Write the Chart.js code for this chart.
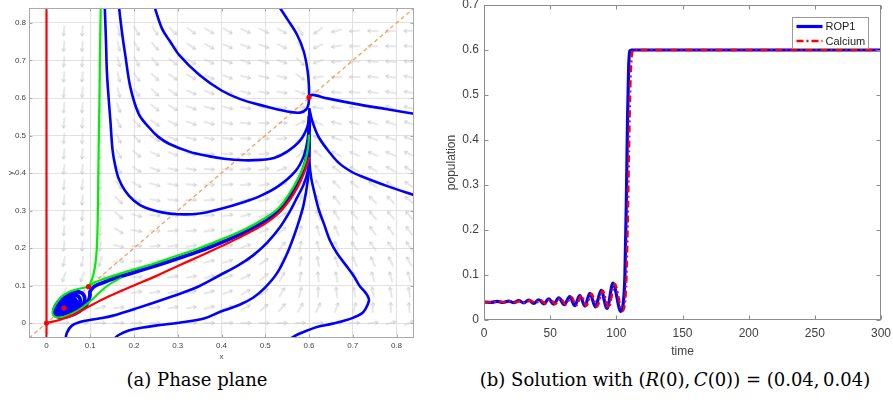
<!DOCTYPE html>
<html>
<head>
<meta charset="utf-8">
<script src="https://cdn.jsdelivr.net/npm/chart.js@4.4.1/dist/chart.umd.min.js"></script>
<style>
  html, body { margin: 0; padding: 0; background: #fff; width: 893px; height: 402px; overflow: hidden; }
  #phase { position: absolute; left: 0; top: 0; }
  #series { position: absolute; left: 440px; top: 0; }
  .cap { position: absolute; top: 369px; font-family: "DejaVu Serif", serif; font-size: 18px; color: #000;
         white-space: nowrap; transform: translateX(-50%); }
  .cap i { font-style: italic; }
</style>
</head>
<body>
<canvas id="phase" width="430" height="362"></canvas>
<canvas id="series" width="453" height="363"></canvas>
<div class="cap" style="left:197px">(a) Phase plane</div>
<div class="cap" style="left:675px">(b) Solution with (<i>R</i>(0),&#8201;<i>C</i>(0)) = (0.04,&#8201;0.04)</div>
<script>
// ---------- phase plane: axes ----------
const phaseRange = [-0.04, 0.84];
const phaseTicks = [0, 0.1, 0.2, 0.3, 0.4, 0.5, 0.6, 0.7, 0.8];

// ---------- phase plane: direction field (arrow centres and headings in degrees) ----------
const quiverX = [0.040, 0.082, 0.123, 0.165, 0.206, 0.248, 0.289, 0.331, 0.372, 0.414,
                 0.455, 0.497, 0.538, 0.580, 0.621, 0.663, 0.704, 0.746, 0.787, 0.829];
const quiverY = [0.779, 0.738, 0.697, 0.656, 0.615, 0.574, 0.533, 0.492, 0.451, 0.410,
                 0.369, 0.328, 0.287, 0.246, 0.205, 0.164, 0.123, 0.082, 0.041, 0.000];
const quiverAngle = [
  [-95,-95,-95,-75,-60,-55,-45,-35,-30,-30,-25,-25,-30,-60,-145,-165,-175,180,180,180],
  [-95,-95,-95,-75,-60,-50,-40,-35,-30,-25,-20,-20,-25,-55,-155,-170,180,180,180,175],
  [-95,-95,-95,-75,-60,-50,-40,-30,-25,-20,-20,-20,-20,-45,-160,-175,180,175,175,175],
  [-95,-95,-95,-75,-55,-45,-35,-30,-25,-20,-15,-15,-15,-35,-170,180,180,175,170,170],
  [-95,-95,-95,-75,-55,-45,-35,-25,-20,-15,-15,-10,-10,-20,180,175,175,170,170,170],
  [-95,-95,-95,-70,-50,-40,-30,-20,-15,-15,-10,-5,-5,5,170,170,170,165,165,165],
  [-95,-95,-95,-65,-45,-35,-25,-20,-15,-10,-5,0,0,25,160,165,165,165,160,160],
  [-95,-95,-95,-65,-45,-30,-20,-15,-10,-5,0,0,5,35,150,160,160,160,160,160],
  [-95,-95,-95,-60,-40,-25,-20,-10,-5,0,0,5,15,45,140,150,155,155,155,155],
  [-95,-95,-95,-60,-35,-20,-15,-10,-5,0,5,10,20,55,130,145,150,150,150,150],
  [-95,-95,-95,-55,-30,-15,-10,-5,0,5,5,10,25,60,120,135,140,145,145,145],
  [-95,-95,-95,-45,-20,-10,-5,0,5,5,10,15,30,65,115,130,135,135,135,140],
  [-95,-95,-95,-40,-15,-5,0,5,5,10,15,20,30,70,110,125,130,130,130,130],
  [-95,-95,-95,-30,-10,0,5,5,10,10,15,25,40,75,105,115,120,125,125,125],
  [-95,-95,-100,-15,0,5,5,10,10,15,20,30,50,80,105,115,125,125,125,125],
  [-100,-100,-105,0,5,5,10,10,15,15,25,35,55,80,100,110,115,115,115,120],
  [-110,-110,0,5,5,5,10,10,15,20,25,40,60,80,95,100,105,105,105,105],
  [-120,180,30,10,10,10,10,15,15,20,30,40,60,75,90,95,100,100,100,100],
  [0,30,15,5,5,5,10,10,15,20,30,40,50,60,65,70,75,85,90,95],
  [0,0,0,0,0,0,0,0,0,0,0,0,0,0,0,0,0,5,15,25]
];

// ---------- phase plane: trajectories [R, C] ----------
const diagonal = [[-0.04, -0.04], [0.84, 0.84]];
const axisNullcline = [[0, -0.05], [0, 0.85]];
const equilibria = [[0, 0], [0.04, 0.04], [0.096, 0.097], [0.6, 0.602]];

const topA = [[.133,.85],[.136,.75],[.138,.671],[.142,.6],[.146,.54],[.151,.461],[.157,.42],[.165,.385],[.18,.352],
  [.2,.326],[.225,.308],[.264,.295],[.3,.29],[.35,.292],[.397,.304],[.45,.322],[.489,.339],[.53,.365],[.569,.405],
  [.588,.445],[.597,.49],[.6,.53],[.601,.555]];
const topB = [[.165,.85],[.172,.78],[.18,.715],[.192,.627],[.211,.557],[.234,.522],[.255,.497],[.28,.478],[.326,.457],
  [.37,.445],[.406,.438],[.45,.434],[.49,.435],[.52,.44],[.55,.457],[.58,.487],[.596,.522],[.6,.55],[.601,.57]];
const topC = [[.245,.85],[.264,.785],[.283,.75],[.303,.715],[.349,.662],[.4,.62],[.443,.597],[.496,.579],[.55,.564],
  [.58,.561],[.594,.57],[.599,.585],[.6,.6]];
const topD = [[.528,.85],[.55,.811],[.573,.768],[.588,.724],[.597,.671],[.6,.627],[.6,.602]];
const rightE = [[.845,.557],[.779,.57],[.703,.585],[.642,.599],[.615,.607],[.605,.608],[.601,.603]];
const rightF = [[.845,.339],[.779,.365],[.718,.392],[.699,.402],[.67,.425],[.649,.452],[.622,.496],[.607,.54],[.601,.57]];
const bottomG = [[.043,-.045],[.047,-.025],[.058,-.007],[.075,.002],[.089,.006],[.12,.012],[.15,.019],[.211,.041],
  [.28,.068],[.341,.094],[.397,.128],[.44,.155],[.473,.181],[.505,.215],[.534,.256],[.555,.295],[.569,.326],
  [.588,.37],[.597,.405],[.6,.45],[.601,.5]];
const bottomH = [[.152,-.045],[.165,-.032],[.188,-.02],[.22,-.012],[.249,-.007],[.31,.002],[.36,.012],[.397,.03],
  [.44,.048],[.473,.068],[.5,.095],[.527,.133],[.548,.18],[.565,.23],[.578,.275],[.588,.317],[.597,.379],[.6,.43],[.601,.48]];
const bottomI = [[.553,-.045],[.575,-.03],[.596,-.02],[.62,-.01],[.649,-.003],[.68,.006],[.703,.015],[.72,.025],
  [.729,.037],[.737,.059],[.735,.07],[.729,.081],[.715,.1],[.703,.124],[.685,.153],[.664,.186],[.648,.22],
  [.634,.265],[.623,.3],[.615,.335],[.605,.387],[.601,.43],[.6,.48]];
const spiralBand = [[.044,.041],[.05,.046],[.047,.05],[.041,.046],[.039,.04],[.044,.037],[.052,.042],[.055,.05],
  [.05,.055],[.042,.051],[.036,.043],[.036,.035],[.044,.032],[.056,.038],[.062,.049],[.06,.058],[.05,.061],
  [.039,.055],[.031,.044],[.031,.032],[.041,.027],[.057,.032],[.067,.045],[.068,.059],[.06,.067],[.046,.065],
  [.034,.055],[.026,.041],[.026,.028],[.037,.022],[.056,.027],[.072,.041],[.077,.058],[.073,.071],[.059,.075],
  [.042,.068],[.029,.055],[.021,.039],[.021,.025],[.032,.018],[.052,.021],[.072,.034],[.085,.052],[.087,.069],
  [.079,.081],[.061,.083],[.042,.073],[.027,.057],[.018,.039],[.018,.024],[.028,.016],[.05,.018],[.075,.031],
  [.092,.05],[.099,.07],[.1,.085],[.11,.098],[.13,.108],[.15,.117],[.2,.135],[.25,.153],[.3,.172],[.35,.192],
  [.4,.215],[.45,.24],[.5,.272],[.53,.299],[.555,.337],[.575,.378],[.59,.42],[.598,.465],[.6,.51],[.601,.55]];
const greenStable = [[.124,.85],[.122,.7],[.121,.6],[.119,.45],[.118,.35],[.117,.27],[.115,.2],[.112,.16],
  [.107,.128],[.1,.105],[.096,.097]];
const greenLoop = [[.096,.097],[.085,.094],[.07,.09],[.05,.082],[.033,.068],[.021,.05],[.014,.033],[.015,.021],
  [.024,.015],[.04,.017],[.06,.026],[.08,.04],[.1,.058],[.12,.08],[.14,.1],[.17,.12]];
const greenUnstable = [[.096,.097],[.11,.108],[.13,.117],[.15,.125],[.2,.143],[.25,.16],[.3,.18],[.35,.2],[.4,.223],
  [.45,.248],[.5,.28],[.53,.306],[.555,.345],[.575,.385],[.59,.425],[.598,.47],[.6,.5]];
const redSeparatrix = [[0,0],[.02,.005],[.04,.012],[.06,.021],[.08,.033],[.1,.046],[.13,.064],[.16,.08],[.2,.1],
  [.25,.125],[.3,.152],[.35,.178],[.4,.205],[.45,.233],[.5,.265],[.53,.292],[.557,.33],[.575,.365],[.587,.395],
  [.595,.42],[.6,.44]];

// ---------- time series ----------
const timeTicks = [0, 50, 100, 150, 200, 250, 300];
const popTicks = [0, 0.1, 0.2, 0.3, 0.4, 0.5, 0.6, 0.7];
const rop1Time = [0, 5.5, 9.9, 14.3, 18.7, 22.5, 26.3, 30, 33.8, 37.6, 41.4, 45.2, 48.9, 52.7, 56.5, 60.6, 64.8,
  68.6, 72.4, 76.2, 80, 84.2, 88.5, 93, 97.5, 103.4, 105.5, 106.5, 107.5, 108.5, 109.3, 110.2, 111.5, 300];
const rop1Value = [.04, .0392, .0415, .039, .042, .0385, .043, .038, .044, .037, .045, .036, .047, .035, .049, .034,
  .052, .032, .055, .031, .059, .029, .066, .026, .082, .019, .045, .1, .25, .45, .56, .598, .6, .6];
const calciumTime = [0, 6.5, 11, 15.5, 19.9, 23.7, 27.5, 31.2, 35, 38.8, 42.6, 46.4, 50.1, 53.9, 57.7, 61.8, 66,
  69.8, 73.6, 77.4, 81.2, 85.4, 89.7, 94.2, 98.8, 104.6, 106.6, 107.6, 108.6, 109.6, 110.6, 111.6, 113, 300];
const calciumValue = [.04, .0395, .0413, .0392, .0418, .0388, .0425, .0383, .0435, .0375, .0445, .0365, .0465,
  .0355, .0485, .0345, .0515, .0325, .0545, .0315, .0585, .0295, .065, .027, .08, .02, .04, .09, .21, .38, .52,
  .585, .6, .6];

// ---------- helpers ----------
Chart.defaults.font.family = '"Liberation Sans", Arial, sans-serif';
const fmt1 = v => String(Math.round(v * 10) / 10);
const toXY = pts => pts.map(([x, y]) => ({ x, y }));

function makeArrowGlyph() {
  const c = document.createElement('canvas');
  c.width = 14; c.height = 14;
  const g = c.getContext('2d');
  g.strokeStyle = '#c8c8c8';
  g.lineWidth = 0.9;
  g.beginPath();
  g.moveTo(1.5, 7); g.lineTo(12.2, 7);
  g.moveTo(9.2, 5.1); g.lineTo(12.2, 7); g.lineTo(9.2, 8.9);
  g.stroke();
  return c;
}

// box round the plot area with short inward ticks on all four sides
const framePlugin = {
  id: 'frame',
  afterDraw(chart, args, opts) {
    const { ctx, chartArea: a, scales } = chart;
    const L = Math.round(a.left) + 0.5, R = Math.round(a.right) - 0.5;
    const T = Math.round(a.top) + 0.5, B = Math.round(a.bottom) - 0.5;
    ctx.save();
    ctx.strokeStyle = opts.color;
    ctx.lineWidth = 1;
    ctx.strokeRect(L, T, R - L, B - T);
    ctx.beginPath();
    scales.x.ticks.forEach(t => {
      const p = Math.round(scales.x.getPixelForValue(t.value)) + 0.5;
      ctx.moveTo(p, B); ctx.lineTo(p, B - opts.tick);
      ctx.moveTo(p, T); ctx.lineTo(p, T + opts.tick);
    });
    scales.y.ticks.forEach(t => {
      const p = Math.round(scales.y.getPixelForValue(t.value)) + 0.5;
      ctx.moveTo(L, p); ctx.lineTo(L + opts.tick, p);
      ctx.moveTo(R, p); ctx.lineTo(R - opts.tick, p);
    });
    ctx.stroke();
    ctx.restore();
  }
};

// fixed axis sizes so the plot areas sit at set positions
const fixHeight = h => s => { s.height = h; s.paddingLeft = 0; s.paddingRight = 0; };
const fixWidth = w => s => { s.width = w; s.paddingTop = 0; s.paddingBottom = 0; };

// ---------- phase plane chart ----------
const arrowGlyph = makeArrowGlyph();
const quiverPoints = [];
const quiverRotation = [];
quiverY.forEach((y, r) => quiverX.forEach((x, c) => {
  quiverPoints.push({ x, y });
  quiverRotation.push(-quiverAngle[r][c]);
}));

const path = (pts, color, width, order) => ({
  data: toXY(pts), showLine: true, borderColor: color, borderWidth: width, pointRadius: 0,
  tension: 0.35, order, clip: 0, borderCapStyle: 'round', borderJoinStyle: 'round'
});

new Chart(document.getElementById('phase'), {
  type: 'scatter',
  data: {
    datasets: [
      { data: quiverPoints, pointStyle: arrowGlyph, pointRotation: quiverRotation, pointRadius: 7,
        showLine: false, order: 30, clip: 0 },
      { data: toXY(diagonal), showLine: true, borderColor: '#f3a064', borderWidth: 1.3, borderDash: [4, 3],
        pointRadius: 0, order: 29, clip: 0 },
      path(topA, '#0000ff', 2.6, 20),
      path(topB, '#0000ff', 2.6, 20),
      path(topC, '#0000ff', 2.6, 20),
      path(topD, '#0000ff', 2.6, 20),
      path(rightE, '#0000ff', 2.6, 20),
      path(rightF, '#0000ff', 2.6, 20),
      path(bottomG, '#0000ff', 2.6, 20),
      path(bottomH, '#0000ff', 2.6, 20),
      path(bottomI, '#0000ff', 2.6, 20),
      path(spiralBand, '#0000ff', 3.8, 19),
      path(greenLoop, '#00ee00', 2, 12),
      path(greenUnstable, '#00ee00', 2.2, 11),
      path(greenStable, '#00ee00', 2.2, 10),
      path(redSeparatrix, '#ff0000', 2.2, 6),
      { ...path(axisNullcline, '#ff0000', 2.2, 5), tension: 0 },
      { data: toXY(equilibria), showLine: false, pointRadius: 2.6, pointBackgroundColor: '#ff0000',
        pointBorderWidth: 0, order: 0, clip: 0 }
    ]
  },
  options: {
    responsive: false,
    animation: false,
    events: [],
    layout: { padding: { left: 0, top: 2, right: 16, bottom: 0 } },
    plugins: { legend: { display: false }, tooltip: { enabled: false }, frame: { color: '#a9a9a9', tick: 3 } },
    scales: {
      x: {
        type: 'linear', min: phaseRange[0], max: phaseRange[1],
        afterBuildTicks: s => { s.ticks = phaseTicks.map(value => ({ value })); },
        afterFit: fixHeight(24),
        grid: { color: '#e1e1e1', drawTicks: false },
        border: { display: false },
        ticks: { padding: 3, color: '#444', font: { size: 8 }, maxRotation: 0, autoSkip: false, callback: fmt1 },
        title: { display: true, text: 'x', color: '#444', font: { size: 8 }, padding: { top: 0, bottom: 0 } }
      },
      y: {
        type: 'linear', min: phaseRange[0], max: phaseRange[1],
        afterBuildTicks: s => { s.ticks = phaseTicks.map(value => ({ value })); },
        afterFit: fixWidth(29),
        grid: { color: '#e1e1e1', drawTicks: false },
        border: { display: false },
        ticks: { padding: 3, color: '#444', font: { size: 8 }, autoSkip: false, callback: fmt1 },
        title: { display: true, text: 'y', color: '#444', font: { size: 8 }, padding: { top: 6, bottom: 0 } }
      }
    }
  },
  plugins: [framePlugin]
});

// ---------- time series chart ----------
const seriesLegend = {
  id: 'seriesLegend',
  afterDraw(chart) {
    const { ctx } = chart;
    const box = { x: 352.5, y: 17.5, w: 76, h: 31 };
    ctx.save();
    ctx.fillStyle = '#fff';
    ctx.fillRect(box.x, box.y, box.w, box.h);
    ctx.strokeStyle = '#9a9a9a';
    ctx.lineWidth = 1;
    ctx.strokeRect(box.x, box.y, box.w, box.h);
    ctx.font = '11px "Liberation Sans", Arial, sans-serif';
    ctx.textBaseline = 'middle';
    chart.data.datasets.forEach((ds, i) => {
      const y = box.y + 9 + i * 14.5;
      ctx.strokeStyle = ds.borderColor;
      ctx.lineWidth = ds.borderWidth;
      ctx.setLineDash(ds.borderDash || []);
      ctx.beginPath();
      ctx.moveTo(box.x + 4, y); ctx.lineTo(box.x + 30, y);
      ctx.stroke();
      ctx.setLineDash([]);
      ctx.fillStyle = '#222';
      ctx.fillText(ds.label, box.x + 33, y + 0.5);
    });
    ctx.restore();
  }
};

const series = (label, times, values, color, width, dash, order) => ({
  label, data: times.map((t, i) => ({ x: t, y: values[i] })),
  borderColor: color, borderWidth: width, borderDash: dash, pointRadius: 0,
  cubicInterpolationMode: 'monotone', order, clip: 2
});

new Chart(document.getElementById('series'), {
  type: 'line',
  data: {
    datasets: [
      series('ROP1', rop1Time, rop1Value, '#0000ff', 3.2, [], 1),
      series('Calcium', calciumTime, calciumValue, '#ff0000', 2.4, [7, 3, 2, 3], 0)
    ]
  },
  options: {
    responsive: false,
    animation: false,
    events: [],
    layout: { padding: { left: 0, top: 5, right: 12, bottom: 0 } },
    plugins: { legend: { display: false }, tooltip: { enabled: false }, frame: { color: '#8c8c8c', tick: 4 } },
    scales: {
      x: {
        type: 'linear', min: 0, max: 300,
        afterBuildTicks: s => { s.ticks = timeTicks.map(value => ({ value })); },
        afterFit: fixHeight(43),
        grid: { display: false, drawTicks: false },
        border: { display: false },
        ticks: { padding: 6, color: '#404040', font: { size: 12 }, maxRotation: 0, autoSkip: false },
        title: { display: true, text: 'time', color: '#404040', font: { size: 12 }, padding: { top: 0, bottom: 4 } }
      },
      y: {
        type: 'linear', min: 0, max: 0.7,
        afterBuildTicks: s => { s.ticks = popTicks.map(value => ({ value })); },
        afterFit: fixWidth(44),
        grid: { display: false, drawTicks: false },
        border: { display: false },
        ticks: { padding: 5, color: '#404040', font: { size: 12 }, autoSkip: false, callback: fmt1 },
        title: { display: true, text: 'population', color: '#404040', font: { size: 12 }, padding: { top: 4, bottom: 0 } }
      }
    }
  },
  plugins: [framePlugin, seriesLegend]
});
</script>
</body>
</html>
